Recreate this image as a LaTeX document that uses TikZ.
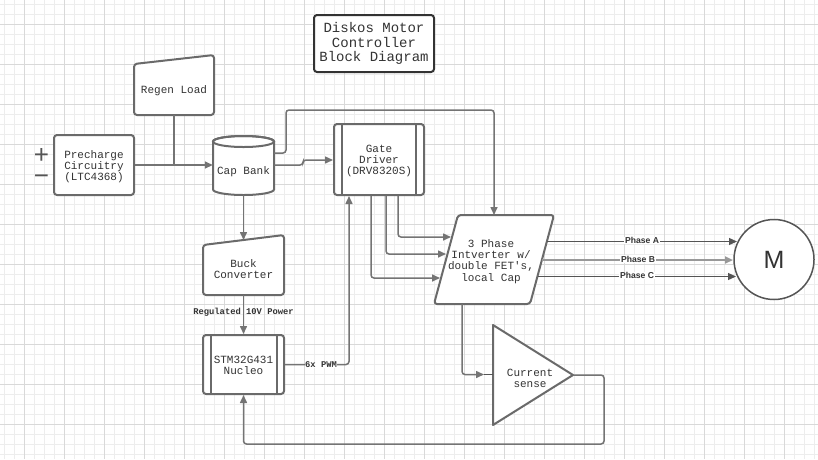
\documentclass[tikz,border=0pt]{standalone}
\usepackage{fontspec}
\setmainfont{Liberation Sans}
\newfontfamily\monof{Liberation Mono}
\newfontfamily\sansf{Liberation Sans}
\usetikzlibrary{arrows.meta}
\definecolor{minorgrid}{HTML}{EDEDED}
\definecolor{majorgrid}{HTML}{D9D9D9}
\definecolor{edgecol}{HTML}{6A6A6A}
\definecolor{conncol}{HTML}{747474}
\definecolor{txtcol}{HTML}{333333}
\definecolor{darkcol}{HTML}{555555}
\definecolor{lightcol}{HTML}{999999}
\begin{document}
\begin{tikzpicture}[x=1pt,y=-1pt,
  boxtext/.style={font=\monof\fontsize{11}{11.2}\selectfont, text=txtcol, align=center, inner sep=0pt},
  blk/.style={draw=edgecol, line width=2pt, fill=white, rounded corners=3pt, line join=round},
  wire/.style={draw=conncol, line width=1.5pt, rounded corners=3pt},
  arr/.style={wire, -{Triangle[length=8pt,width=7pt]}},
  lbl/.style={font=\monof\bfseries\fontsize{8.8}{9}\selectfont, text=txtcol, inner sep=0.5pt},
  phaselbl/.style={font=\sansf\bfseries\fontsize{8.6}{9}\selectfont, text=txtcol, fill=white, inner sep=0.8pt},
  phasewire/.style={draw=darkcol, line width=1.2pt, -{Triangle[length=8pt,width=7pt]}},
]
% background and grid
\fill[white] (0,0) rectangle (818,459);
\useasboundingbox (0,0) rectangle (818,459);
\foreach \x in {4,14,...,814} \draw[minorgrid, line width=1pt] (\x,0) -- (\x,459);
\foreach \y in {4,14,...,454} \draw[minorgrid, line width=1pt] (0,\y) -- (818,\y);
\foreach \x in {24,64,...,784} \draw[majorgrid, line width=1pt] (\x,0) -- (\x,459);
\foreach \y in {24,64,...,424} \draw[majorgrid, line width=1pt] (0,\y) -- (818,\y);

% title
\node[blk, draw=txtcol, minimum width=120pt, minimum height=57pt, align=center, inner sep=0pt,
      font=\monof\fontsize{14}{14.5}\selectfont, text=txtcol] (title) at (374,43.5)
      {Diskos Motor\\Controller\\Block Diagram};

% plus / minus terminals (one two-line text)
\node[align=center, inner sep=0pt, font=\sansf\fontsize{26}{21.4}\selectfont, text=darkcol] (terms) at (41.5,166.2) {+\\−};

% precharge
\node[blk, minimum width=80pt, minimum height=60pt] (pre) at (94,165) {};
\node[boxtext] (pretext) at (94,166.5) {Precharge\\Circuitry\\(LTC4368)};

% regen load (manual input shape)
\draw[blk] (134,64) -- (214,55) -- (214,115) -- (134,115) -- cycle;
\node[boxtext, minimum width=80pt, minimum height=48pt] (regen) at (174,91) {Regen Load};

% cap bank (cylinder)
\draw[draw=edgecol, line width=2pt, fill=white] (213,141.5) -- (213,189.5) arc (180:360:30.5pt and 5.5pt) -- (274,141.5) arc (0:180:30.5pt and 5.5pt) -- cycle;
\draw[draw=edgecol, line width=2pt] (243.5,141.5) ellipse [x radius=30.5pt, y radius=5.5pt];
\node[boxtext, minimum width=61pt, minimum height=46pt] (cap) at (243.5,172) {Cap Bank};

% gate driver
\node[blk, minimum width=90pt, minimum height=71pt] (gate) at (379,159.5) {};
\node[boxtext] (gatetext) at (379,161) {Gate\\Driver\\(DRV8320S)};
\draw[edgecol, line width=2pt] ([xshift=9pt]gate.north west) -- ([xshift=9pt]gate.south west);
\draw[edgecol, line width=2pt] ([xshift=-9pt]gate.north east) -- ([xshift=-9pt]gate.south east);

% buck converter (manual input shape)
\draw[blk] (203,245) -- (284,235) -- (284,295) -- (203,295) -- cycle;
\node[boxtext, minimum width=81pt, minimum height=52pt] (buck) at (243.5,269) {Buck\\Converter};
\coordinate (bucktop) at (243.5,240);

% nucleo
\node[blk, minimum width=81pt, minimum height=59pt] (nuc) at (243.5,364.5) {};
\node[boxtext] (nuctext) at (243.5,365.3) {STM32G431\\Nucleo};
\draw[edgecol, line width=2pt] ([xshift=8.5pt]nuc.north west) -- ([xshift=8.5pt]nuc.south west);
\draw[edgecol, line width=2pt] ([xshift=-8pt]nuc.north east) -- ([xshift=-8pt]nuc.south east);

% inverter (parallelogram)
\draw[blk] (458,215) -- (554,215) -- (530,304) -- (434,304) -- cycle;
\node[boxtext, minimum width=80pt, minimum height=89pt] (inv) at (491,259.5) {};
\node[boxtext] (invtext) at (491,261.5) {3 Phase\\Intverter w/\\double FET's,\\local Cap};
\coordinate (invtop) at (494,215);
\coordinate (ina) at (451,237);
\coordinate (inb) at (446,254);
\coordinate (inc) at (440,278);

% current sense (triangle)
\draw[blk, rounded corners=0pt] (493,325) -- (573,375) -- (493,425) -- cycle;
\node[boxtext] (cs) at (530,378) {Current\\sense};
\coordinate (csin) at (493,374.5);
\coordinate (csout) at (573,375);

% motor
\node[circle, draw=darkcol, line width=1.5pt, fill=white, minimum size=80pt, inner sep=0pt,
      font=\sansf\fontsize{25}{25}\selectfont, text=txtcol] (motor) at (774,259.5) {M};

% ---- connectors ----
\draw[arr] (pre.east) -- (cap.west |- pre.east);
\draw[wire] (regen.south) -- (regen.south |- pre.east);
\draw[arr] (cap.east |- 0,153) -- (286,153) -- (286,110) -- (494,110) -- (invtop);
\draw[arr] (cap.east |- 0,165) -- (303,165) -- (303,160) -- (gate.west |- 0,160);
\draw[arr] (gate.south -| 398,0) -- (398,237) -- (ina);
\draw[arr] (gate.south -| 386,0) -- (386,254) -- (inb);
\draw[arr] (gate.south -| 371,0) -- (371,278) -- (inc);
\draw[arr] (cap.south) -- (bucktop);
\draw[arr] (buck.south) -- (nuc.north);
\node[lbl] (reglbl) at (243.5,312.5) {Regulated 10V Power};
\draw[arr] (nuc.east) -- (349,364.5) -- (gate.south -| 349,0);
\node[lbl, fill=white] (pwmlbl) at (321,365) {6x PWM};
\draw[arr] (inv.south -| 462,0) -- (462,374.5) -- (484,374.5);
\draw[draw=darkcol, line width=1.5pt] (484,374.5) -- (csin);
\draw[arr] (csout) -- (604,375) -- (604,444) -- (243.5,444) -- (nuc.south);

% phases
\draw[phasewire] (546.5,241.5) -- (737,241.5);
\draw[phasewire, draw=lightcol, line width=2pt] (541.5,260) -- (733,260);
\draw[phasewire] (537.5,276.5) -- (736,276.5);
\node[phaselbl] (pa) at (642,240.5) {Phase A};
\node[phaselbl] (pb) at (638,259) {Phase B};
\node[phaselbl] (pc) at (637,275.5) {Phase C};
\end{tikzpicture}
\end{document}
